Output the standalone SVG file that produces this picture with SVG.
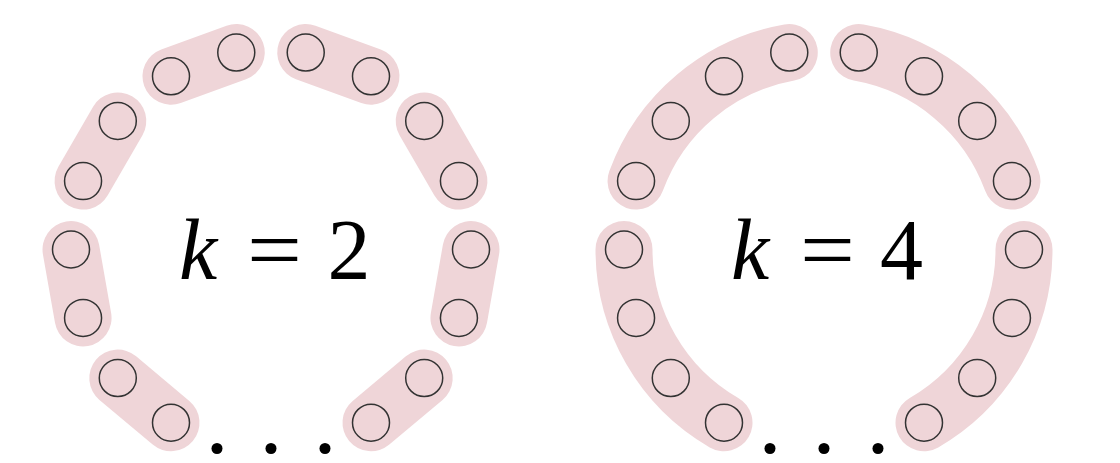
<svg xmlns="http://www.w3.org/2000/svg" width="1120" height="463" viewBox="0 0 1120 463">
<style>
.pill{fill:none;stroke:#efd5d8;stroke-width:57;stroke-linecap:round}
.n{fill:none;stroke:#333;stroke-width:1.5}
.t{font-family:"Liberation Serif","DejaVu Serif",serif;font-size:86px;fill:#000}
.dot{fill:#000}
</style>
<rect width="1120" height="463" fill="#fff"/>
<g id="connectors">
<path class="pill" d="M305.73 52.54L371 76.29"/>
<path class="pill" d="M424.21 120.94L458.94 181.1"/>
<path class="pill" d="M471 249.5L458.94 317.9"/>
<path class="pill" d="M424.21 378.06L371 422.71"/>
<path class="pill" d="M171 422.71L117.79 378.06"/>
<path class="pill" d="M83.06 317.9L71 249.5"/>
<path class="pill" d="M83.06 181.1L117.79 120.94"/>
<path class="pill" d="M171 76.29L236.27 52.54"/>
<path class="pill" d="M858.73 52.54A200 200 0 0 1 1011.94 181.1"/>
<path class="pill" d="M1024 249.5A200 200 0 0 1 924 422.71"/>
<path class="pill" d="M724 422.71A200 200 0 0 1 624 249.5"/>
<path class="pill" d="M636.06 181.1A200 200 0 0 1 789.27 52.54"/>
</g>
<g id="ring-k2">
<circle class="n" cx="471" cy="249.5" r="18.5"/>
<circle class="n" cx="458.94" cy="317.9" r="18.5"/>
<circle class="n" cx="458.94" cy="181.1" r="18.5"/>
<circle class="n" cx="424.21" cy="378.06" r="18.5"/>
<circle class="n" cx="424.21" cy="120.94" r="18.5"/>
<circle class="n" cx="371" cy="422.71" r="18.5"/>
<circle class="n" cx="371" cy="76.29" r="18.5"/>
<circle class="n" cx="305.73" cy="52.54" r="18.5"/>
<circle class="n" cx="236.27" cy="52.54" r="18.5"/>
<circle class="n" cx="171" cy="76.29" r="18.5"/>
<circle class="n" cx="117.79" cy="120.94" r="18.5"/>
<circle class="n" cx="83.06" cy="181.1" r="18.5"/>
<circle class="n" cx="71" cy="249.5" r="18.5"/>
<circle class="n" cx="83.06" cy="317.9" r="18.5"/>
<circle class="n" cx="117.79" cy="378.06" r="18.5"/>
<circle class="n" cx="171" cy="422.71" r="18.5"/>
<circle class="dot" cx="217" cy="448.5" r="5.5"/>
<circle class="dot" cx="271" cy="448.5" r="5.5"/>
<circle class="dot" cx="325" cy="448.5" r="5.5"/>
</g>
<g id="ring-k4">
<circle class="n" cx="1024" cy="249.5" r="18.5"/>
<circle class="n" cx="1011.94" cy="317.9" r="18.5"/>
<circle class="n" cx="1011.94" cy="181.1" r="18.5"/>
<circle class="n" cx="977.21" cy="378.06" r="18.5"/>
<circle class="n" cx="977.21" cy="120.94" r="18.5"/>
<circle class="n" cx="924" cy="422.71" r="18.5"/>
<circle class="n" cx="924" cy="76.29" r="18.5"/>
<circle class="n" cx="858.73" cy="52.54" r="18.5"/>
<circle class="n" cx="789.27" cy="52.54" r="18.5"/>
<circle class="n" cx="724" cy="76.29" r="18.5"/>
<circle class="n" cx="670.79" cy="120.94" r="18.5"/>
<circle class="n" cx="636.06" cy="181.1" r="18.5"/>
<circle class="n" cx="624" cy="249.5" r="18.5"/>
<circle class="n" cx="636.06" cy="317.9" r="18.5"/>
<circle class="n" cx="670.79" cy="378.06" r="18.5"/>
<circle class="n" cx="724" cy="422.71" r="18.5"/>
<circle class="dot" cx="770" cy="448.5" r="5.5"/>
<circle class="dot" cx="824" cy="448.5" r="5.5"/>
<circle class="dot" cx="878" cy="448.5" r="5.5"/>
</g>
<g id="label-k2" class="t">
<text x="198" y="279" font-style="italic" text-anchor="middle">k</text>
<text x="247" y="279" textLength="55" lengthAdjust="spacingAndGlyphs">=</text>
<text x="349" y="279" text-anchor="middle">2</text>
</g>
<g id="label-k4" class="t">
<text x="750" y="279" font-style="italic" text-anchor="middle">k</text>
<text x="800" y="279" textLength="55" lengthAdjust="spacingAndGlyphs">=</text>
<text x="901.5" y="279" text-anchor="middle">4</text>
</g>
</svg>
